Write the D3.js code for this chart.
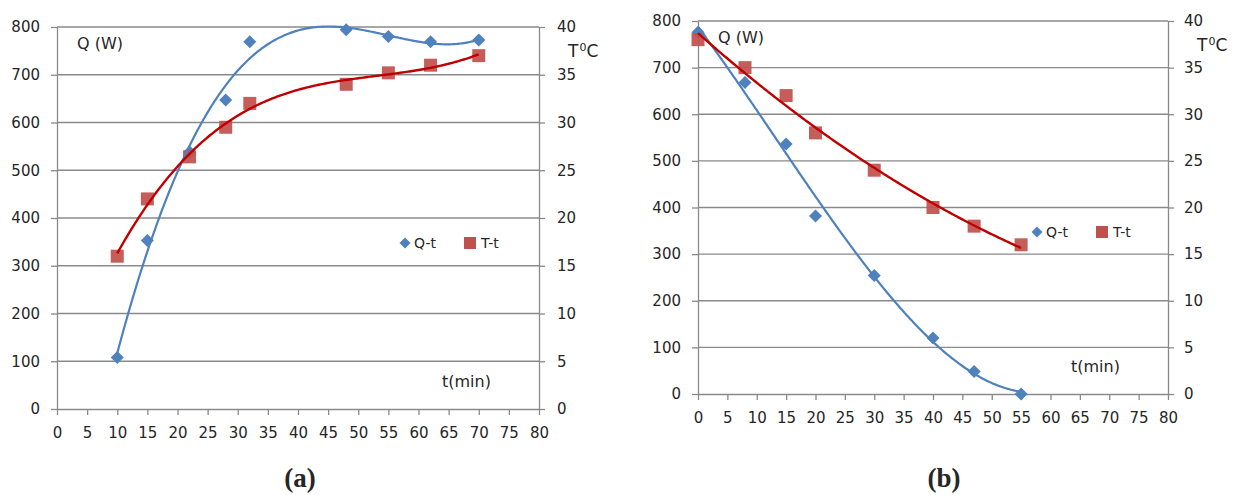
<!DOCTYPE html>
<html>
<head>
<meta charset="utf-8">
<script src="https://cdn.jsdelivr.net/npm/d3@7"></script>
<style>
  body { margin: 0; background: #fff; }
  svg text { font-family: "DejaVu Sans", sans-serif; fill: #262626; }
</style>
</head>
<body>
<div id="chart"></div>
<script>
// panel (a): heating
const timeA = [10, 15, 22, 28, 32, 48, 55, 62, 70];
const powerA = [108, 353, 538, 647, 769, 794, 780, 769, 773];
const tempA = [16, 22, 26.4, 29.5, 32, 34, 35.2, 36, 37];

// panel (b): cooling
const timeB = [0, 8, 15, 20, 30, 40, 47, 55];
const powerB = [776, 668, 536, 382, 254, 120, 48, 0];
const tempB = [38, 35, 32, 28, 24, 20, 18, 16];

const xTicks = d3.range(0, 81, 5);
const qTicks = d3.range(0, 801, 100);
const tTicks = d3.range(0, 41, 5);

const blue = "#4f81bd";
const redMarker = "#c0504d";
const redLine = "#c00000";
const grid = "#8a8a8a";

const svg = d3.select("#chart").append("svg")
  .attr("width", 1234)
  .attr("height", 495);

// least squares polynomial (Excel-like trendline)
function polyfit(xs, ys, order) {
  const s = 0.01;
  const n = order + 1;
  const A = [];
  for (let i = 0; i < n; i++) {
    A.push(new Array(n + 1).fill(0));
  }
  xs.forEach((x0, k) => {
    const x = x0 * s;
    for (let i = 0; i < n; i++) {
      for (let j = 0; j < n; j++) A[i][j] += Math.pow(x, i + j);
      A[i][n] += ys[k] * Math.pow(x, i);
    }
  });
  for (let c = 0; c < n; c++) {
    let p = c;
    for (let r = c + 1; r < n; r++) if (Math.abs(A[r][c]) > Math.abs(A[p][c])) p = r;
    [A[c], A[p]] = [A[p], A[c]];
    for (let r = 0; r < n; r++) {
      if (r === c) continue;
      const f = A[r][c] / A[c][c];
      for (let j = c; j <= n; j++) A[r][j] -= f * A[c][j];
    }
  }
  const coef = A.map((row, i) => row[n] / row[i]);
  return x => coef.reduce((acc, a, i) => acc + a * Math.pow(x * s, i), 0);
}

const diamond = "M0,-6.5L6.5,0L0,6.5L-6.5,0Z";

function drawPanel(p) {
  const g = svg.append("g");
  const x = d3.scaleLinear().domain([0, 80]).range([p.left, p.right]);
  const yQ = d3.scaleLinear().domain([0, 800]).range([p.bottom, p.top]);
  const yT = d3.scaleLinear().domain([0, 40]).range([p.bottom, p.top]);

  // gridlines
  g.selectAll(".grid").data(qTicks.filter(d => d > 0)).enter()
    .append("line")
    .attr("x1", p.left).attr("x2", p.right)
    .attr("y1", d => yQ(d)).attr("y2", d => yQ(d))
    .attr("stroke", grid).attr("stroke-width", 1.3);

  const axisStyle = sel => {
    sel.select(".domain").attr("stroke", grid).attr("stroke-width", 1.3);
    sel.selectAll(".tick line").attr("stroke", grid).attr("stroke-width", 1.3);
    sel.selectAll(".tick text").style("font-size", "15px").attr("fill", "#262626");
  };

  g.append("g").attr("transform", `translate(0,${p.bottom})`)
    .call(d3.axisBottom(x).tickValues(xTicks).tickSize(6).tickSizeOuter(0).tickPadding(12))
    .call(axisStyle);
  g.append("g").attr("transform", `translate(${p.left},0)`)
    .call(d3.axisLeft(yQ).tickValues(qTicks).tickSize(6).tickSizeOuter(0).tickPadding(11))
    .call(axisStyle);
  g.append("g").attr("transform", `translate(${p.right},0)`)
    .call(d3.axisRight(yT).tickValues(tTicks).tickSize(6).tickSizeOuter(0).tickPadding(p.rPad))
    .call(axisStyle)
    .selectAll(".tick text").attr("text-anchor", "start");

  // markers
  g.selectAll(".qpt").data(p.time.map((t, i) => [t, p.power[i]])).enter()
    .append("path")
    .attr("d", diamond)
    .attr("transform", d => `translate(${x(d[0])},${yQ(d[1])})`)
    .attr("fill", blue);
  g.selectAll(".tpt").data(p.time.map((t, i) => [t, p.temp[i]])).enter()
    .append("rect")
    .attr("x", d => x(d[0]) - 6.5).attr("y", d => yT(d[1]) - 6.5)
    .attr("width", 13).attr("height", 13)
    .attr("fill", redMarker).attr("opacity", 0.92);

  // trendlines
  const clipId = "clip" + p.name;
  svg.append("clipPath").attr("id", clipId).append("rect")
    .attr("x", p.left).attr("y", p.top - 2)
    .attr("width", p.right - p.left).attr("height", p.bottom - p.top + 2);
  const fq = polyfit(p.time, p.power, p.qOrder);
  const ft = polyfit(p.time, p.temp, p.tOrder);
  const xs = d3.range(d3.min(p.time), d3.max(p.time) + 0.01, 0.25);
  g.append("path")
    .attr("d", d3.line().x(d => x(d)).y(d => yQ(fq(d)))(xs))
    .attr("fill", "none").attr("stroke", blue).attr("stroke-width", 2.2)
    .attr("clip-path", `url(#${clipId})`);
  g.append("path")
    .attr("d", d3.line().x(d => x(d)).y(d => yT(ft(d)))(xs))
    .attr("fill", "none").attr("stroke", redLine).attr("stroke-width", 2.4);

  // axis titles
  g.append("text").attr("x", p.left + 20).attr("y", p.top + 22)
    .style("font-size", "16px").text("Q (W)");
  const tt = g.append("text").attr("x", p.right + 29).attr("y", p.top + 30)
    .style("font-size", "17px");
  tt.append("tspan").text("T");
  tt.append("tspan").attr("dy", -6).attr("dx", 1).style("font-size", "11px").text("0");
  tt.append("tspan").attr("dy", 6).text("C");
  g.append("text").attr("x", p.right - 97).attr("y", p.bottom - 22)
    .style("font-size", "16px").text("t(min)");

  // legend
  g.append("path").attr("d", "M0,-5.5L5.5,0L0,5.5L-5.5,0Z")
    .attr("transform", `translate(${p.legX},${p.legY})`).attr("fill", blue);
  g.append("text").attr("x", p.legX + 9).attr("y", p.legY + 5)
    .style("font-size", "14px").text("Q-t");
  g.append("rect").attr("x", p.legX + 59).attr("y", p.legY - 6)
    .attr("width", 12).attr("height", 12).attr("fill", redMarker);
  g.append("text").attr("x", p.legX + 76).attr("y", p.legY + 5)
    .style("font-size", "14px").text("T-t");

  // caption
  svg.append("text").attr("x", p.capX).attr("y", 487)
    .attr("text-anchor", "middle")
    .style("font-family", "'Liberation Serif', serif")
    .style("font-size", "27px").style("font-weight", "bold").attr("fill", "#000")
    .text(`(${p.name})`);
}

drawPanel({
  name: "a", left: 57, right: 539, top: 27, bottom: 409,
  time: timeA, power: powerA, temp: tempA, qOrder: 4, tOrder: 3,
  legX: 405, legY: 243, capX: 300, rPad: 12
});
drawPanel({
  name: "b", left: 698, right: 1168, top: 21, bottom: 394,
  time: timeB, power: powerB, temp: tempB, qOrder: 3, tOrder: 2,
  legX: 1037, legY: 232, capX: 944, rPad: 10
});
</script>
</body>
</html>
